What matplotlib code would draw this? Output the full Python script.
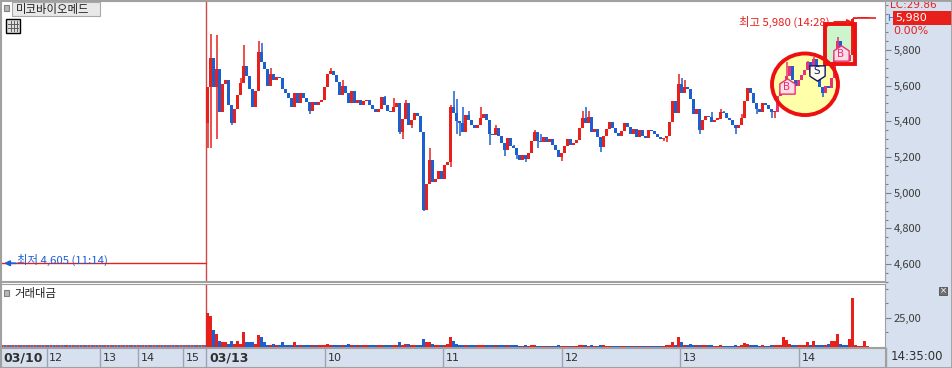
import numpy as np
import matplotlib
matplotlib.use('Agg')
import matplotlib.pyplot as plt
import matplotlib.transforms as mtransforms
from matplotlib.patches import Ellipse, Rectangle
from matplotlib.path import Path
from matplotlib.ticker import MultipleLocator, FixedLocator, FuncFormatter

plt.rcParams['font.family'] = ['Noto Sans CJK KR', 'DejaVu Sans']

# 종목 / 패널 이름
stock_name = '미코바이오메드'
vol_name = '거래대금'

# 03/13 분봉 종가 (그림에서 약 1.5분 간격으로 읽은 값)
closes = [
    5590, 5755, 5590, 5695, 5450, 5610, 5630, 5490, 5390, 5470,
    5545, 5615, 5710, 5655, 5580, 5480, 5570, 5790, 5730, 5695,
    5600, 5665, 5630, 5650, 5640, 5580, 5560, 5530, 5480, 5560,
    5500, 5560, 5530, 5510, 5460, 5510, 5490, 5510, 5520, 5590,
    5665, 5680, 5660, 5620, 5545, 5600, 5560, 5500, 5570, 5500,
    5520, 5490, 5515, 5520, 5490, 5470, 5450, 5470, 5535, 5490,
    5460, 5450, 5480, 5500, 5340, 5415, 5500, 5380, 5405, 5445,
    5430, 5340, 4905, 5050, 5185, 5060, 5075, 5120, 5075, 5155,
    5170, 5480, 5445, 5400, 5390, 5340, 5435, 5410, 5380, 5360,
    5380, 5420, 5440, 5410, 5330, 5325, 5365, 5320, 5280, 5240,
    5305, 5260, 5250, 5210, 5185, 5210, 5190, 5225, 5290, 5340,
    5290, 5285, 5315, 5285, 5300, 5270, 5240, 5200, 5225, 5260,
    5300, 5270, 5280, 5295, 5360, 5420, 5390, 5425, 5340, 5355,
    5310, 5255, 5320, 5355, 5395, 5365, 5335, 5320, 5345, 5390,
    5370, 5330, 5355, 5315, 5350, 5320, 5305, 5350, 5345, 5330,
    5310, 5300, 5305, 5320, 5395, 5515, 5445, 5610, 5560, 5590,
    5580, 5525, 5440, 5470, 5350, 5410, 5430, 5425, 5395, 5410,
    5415, 5455, 5445, 5420, 5405, 5380, 5360, 5380, 5420, 5515,
    5585, 5560, 5505, 5470, 5450, 5500, 5490, 5470, 5450, 5455,
    5540, 5570, 5590, 5655, 5710, 5630, 5600, 5630, 5660, 5685,
    5730, 5670, 5750, 5640, 5590, 5560, 5600, 5585, 5640, 5760,
    5850, 5800, 5770, 5740, 5770, 5975, 5980, 5980, 5980, 5980, 5980,
]
first_open = 5390

# 꼬리가 긴 봉 (인덱스: 가격)
wick_hi = {1: 5890, 3: 5885, 11: 5645, 12: 5830, 17: 5850, 18: 5840, 21: 5700,
           41: 5700, 45: 5630, 59: 5540, 62: 5530, 66: 5520, 74: 5250, 81: 5490,
           82: 5570, 83: 5525, 85: 5480, 87: 5460, 91: 5480, 96: 5380, 102: 5270,
           109: 5350, 111: 5330, 125: 5460, 126: 5480, 127: 5460, 157: 5665,
           158: 5640, 159: 5630, 168: 5450, 171: 5470, 172: 5460, 178: 5440,
           193: 5730, 200: 5740, 202: 5760, 210: 5870, 215: 5980}
wick_lo = {0: 5250, 1: 5250, 3: 5300, 8: 5380, 34: 5440, 64: 5330, 65: 5300,
           68: 5365, 72: 4900, 81: 5145, 83: 5330, 84: 5320, 94: 5270, 99: 5205,
           103: 5190, 106: 5170, 110: 5250, 118: 5180, 131: 5230, 152: 5290,
           153: 5285, 164: 5330, 176: 5330, 183: 5440, 188: 5420, 189: 5420,
           205: 5535}

# 거래대금
volume = [
    29, 27, 15, 11, 5, 4, 4, 3, 5, 3,
    5, 3, 12.5, 4, 4, 4, 3, 10.5, 9, 4,
    2, 2, 2.5, 2, 2, 4, 2, 2, 2, 4,
    2, 1.5, 1.5, 2, 1.5, 1.5, 2, 1.5, 1.5, 2,
    3, 2, 1.5, 1.5, 2, 1.5, 1.5, 3, 1.5, 1.5,
    2, 1.5, 1.5, 1.5, 2, 1.5, 1.5, 2, 1.5, 1.5,
    1.5, 1.5, 1.5, 2, 4, 1.5, 3, 3, 1.5, 2,
    1.5, 2, 6.5, 4, 4, 3, 2, 1.5, 2, 2,
    2.5, 8.5, 5, 3, 2, 2, 2, 1.5, 1.5, 1.5,
    2, 1.5, 2, 1.5, 1.5, 1.5, 1.5, 1.5, 1.5, 2,
    1.5, 1.5, 1.5, 1.5, 1, 1, 1.5, 1, 1.5, 1.5,
    1, 1, 1, 1, 1, 1, 1, 1.5, 1, 1,
    1, 1, 1, 1, 1.5, 2, 1.5, 1, 1.5, 1,
    1, 2, 1.5, 1, 1, 1, 1, 1, 1, 1,
    1, 1, 1, 1, 1, 1, 1, 1, 1, 1,
    1, 1, 1, 1.5, 2, 4, 2, 8.5, 4.5, 2,
    2, 3, 2, 1.5, 2, 1.5, 1.5, 1.5, 1.5, 1,
    1, 1.5, 1, 1, 1, 1, 1.5, 1, 1.5, 3.5,
    2.5, 1.5, 1.5, 1.5, 1, 1.5, 1, 1, 1.5, 1.5,
    2, 2, 9, 6, 3, 2, 1.5, 1.5, 2, 1.5,
    4, 2, 5, 1.5, 1.5, 1.5, 2, 3, 5, 5,
    11, 3, 1.5, 2, 6.5, 42, 2, 1, 1, 5, 1,
]

low_price, low_text = 4605, '최저 4,605 (11:14)'
high_price, high_idx, high_text = 5980, 215, '최고 5,980 (14:28)'
last_price, last_change, lc_text = 5980, '0.00%', 'LC:29.86'
signals = [('B', 193, 5600), ('S', 203, 5672), ('B', 211, 5785)]
circle_span = (190, 208)
box_span = (209, 214)

price_ticks = [4600, 4800, 5000, 5200, 5400, 5600, 5800]
prev_days = ['03/10', '12', '13', '14', '15']
today_hours = ['03/13', '10', '11', '12', '13', '14']
now_text = '14:35:00'

assert len(closes) == len(volume)

RED = '#e8201c'
BLUE = '#1c5fd0'
PINK = '#e63274'
GRAY = '#a0a0a0'
PANEL = '#d6e0ee'

W, H = 952, 368
fig = plt.figure(figsize=(W / 100, H / 100), dpi=100)
fig.patch.set_facecolor('white')


def px_axes(x0, y0, x1, y1):
    return fig.add_axes([x0 / W, 1 - y1 / H, (x1 - x0) / W, (y1 - y0) / H])


def fx(x):
    return x / W


def fy(y):
    return 1 - y / H


# 오른쪽 / 아래 파란 배경 (축 뒤에)
fig.patches.append(Rectangle((fx(885), 0), fx(952) - fx(885), 1, transform=fig.transFigure,
                             fc=PANEL, ec='none', zorder=-5))
fig.patches.append(Rectangle((0, 0), 1, fy(347), transform=fig.transFigure,
                             fc=PANEL, ec='none', zorder=-5))

XMIN, XMAX = -69, 225.67

ax = px_axes(1, 1, 885, 282)
axv = px_axes(1, 284, 885, 347)
axx = px_axes(1, 348, 885, 367)

# ---- 캔들 ----
n = len(closes)
x = np.arange(n)
c = np.array(closes, dtype=float)
o = np.concatenate([[first_open], c[:-1]])
hi = np.maximum(o, c)
lo = np.minimum(o, c)
for i, v in wick_hi.items():
    hi[i] = max(hi[i], v)
for i, v in wick_lo.items():
    lo[i] = min(lo[i], v)
up = c >= o
hl = np.zeros(n, dtype=bool)
hl[circle_span[0]:box_span[1] + 1] = True
cols = [(PINK if hl[i] else RED) if up[i] else BLUE for i in range(n)]

ax.vlines(x, lo, hi, colors=cols, lw=1.1, zorder=3)
ax.bar(x, np.maximum(np.abs(c - o), 6), bottom=np.minimum(o, c), width=1.0,
       color=cols, linewidth=0, zorder=3)

ax.set_xlim(XMIN, XMAX)
ax.set_ylim(4500, 6074)
ax.set_xticks([])
ax.yaxis.tick_right()
ax.yaxis.set_major_locator(FixedLocator(price_ticks))
ax.yaxis.set_minor_locator(MultipleLocator(50))
ax.yaxis.set_major_formatter(FuncFormatter(lambda v, p: f'{v:,.0f}'))
ax.tick_params(axis='y', which='major', length=4, width=0.8, color='#808080',
               labelsize=8, labelcolor='#3c3c3c', pad=2)
ax.tick_params(axis='y', which='minor', length=2.5, width=0.8, color='#808080')
for s in ax.spines.values():
    s.set_color(GRAY)
ax.spines['bottom'].set_linewidth(1.5)

# 장 시작 구분선
ax.axvline(-0.5, color='#d04848', lw=1, zorder=2)
axv.axvline(-0.5, color='#d04848', lw=1, zorder=2)

# 매매 구간 표시 (원, 박스)
span = slice(circle_span[0], circle_span[1] + 1)
ccx = (circle_span[0] + circle_span[1]) / 2
ccy = (hi[span].max() + lo[span].min()) / 2
cw = circle_span[1] - circle_span[0] + 4
chh = hi[span].max() - lo[span].min() + 40
ax.add_patch(Ellipse((ccx, ccy), cw, chh, fc='#ffffaa', ec='none', zorder=1))
ax.add_patch(Ellipse((ccx, ccy), cw, chh, fc='none', ec='#ee1010', lw=2.8, zorder=4))
bspan = slice(box_span[0], box_span[1] + 1)
bx0 = box_span[0] - 3.3
bx1 = box_span[1] + 1.7
by0 = c[bspan].min() - 20
by1 = hi[bspan].max() + 75
ax.add_patch(Rectangle((bx0, by0), bx1 - bx0, by1 - by0, fc='#ccf5cc', ec='none', zorder=1))
ax.add_patch(Rectangle((bx0, by0), bx1 - bx0, by1 - by0, fc='none', ec='#ee1010', lw=2.8, zorder=4))

# 매수/매도 신호
house = Path([(-1, -1), (1, -1), (1, 0.35), (0, 1), (-1, 0.35), (-1, -1)],
             [Path.MOVETO] + [Path.LINETO] * 4 + [Path.CLOSEPOLY])
shield = Path([(-1, 1), (1, 1), (1, -0.35), (0, -1), (-1, -0.35), (-1, 1)],
              [Path.MOVETO] + [Path.LINETO] * 4 + [Path.CLOSEPOLY])
for kind, k, p in signals:
    if kind == 'B':
        ax.plot(k, p, marker=house, ms=11, mfc='#ffdce6', mec=PINK, mew=1, zorder=5)
        ax.text(k, p - 8, 'B', color=PINK, fontsize=7.5, ha='center', va='center',
                family='DejaVu Sans', zorder=6)
    else:
        ax.plot(k, p, marker=shield, ms=11, mfc='#fffff0', mec='#141464', mew=1, zorder=5)
        ax.text(k, p + 8, 'S', color='#141464', fontsize=7.5, ha='center', va='center',
                family='DejaVu Sans', zorder=6)

# 최고가 표시
ax.annotate(high_text, xy=(high_idx - 0.3, high_price - 22), xytext=(207.3, high_price - 22),
            ha='right', va='center', color=RED, fontsize=8.2,
            arrowprops=dict(arrowstyle='-|>', color=RED, lw=1, shrinkA=1, shrinkB=0,
                            mutation_scale=7), zorder=6)
ax.hlines(last_price, high_idx, n + 1.6, color=RED, lw=1.2, zorder=3)

# 최저가 표시
ax.hlines(low_price, XMIN, -0.5, color=RED, lw=1, zorder=2)
ax.annotate('', xy=(XMIN + 1, low_price), xytext=(XMIN + 5, low_price),
            arrowprops=dict(arrowstyle='-|>', color=BLUE, lw=1.2, shrinkA=0, shrinkB=0,
                            mutation_scale=8))
ax.text(XMIN + 5.3, low_price + 20, low_text, color=BLUE, fontsize=8.2, va='center', ha='left')

# 오른쪽 현재가 표시
bt = mtransforms.blended_transform_factory(ax.transAxes, ax.transData)
ax.text(1 + 5 / 884, 6050, lc_text, transform=bt, color=RED, fontsize=7.5,
        family='DejaVu Sans', va='center', ha='left', clip_on=False)
ax.text(1 + 2 / 884, 5975, 'H', transform=bt, color=BLUE, fontsize=6.5,
        family='DejaVu Sans', va='center', ha='left', clip_on=False)
ax.add_patch(Rectangle((1 + 8 / 884, last_price - 40), 66 / 884, 80, transform=bt,
                       fc=RED, ec='none', clip_on=False, zorder=6))
ax.text(1 + 10 / 884, last_price, f'{last_price:,}', transform=bt, color='white',
        fontsize=8, family='DejaVu Sans', va='center', ha='left', clip_on=False, zorder=7)
ax.text(1 + 8 / 884, 5905, last_change, transform=bt, color=RED, fontsize=8,
        family='DejaVu Sans', va='center', ha='left', clip_on=False)

# ---- 거래대금 ----
vcols = [RED if up[i] else BLUE for i in range(n)]
axv.bar(x, volume, width=1.0, color=vcols, linewidth=0, zorder=3)
axv.hlines(0.9, XMIN, -0.6, colors=RED, lw=1.3, linestyles=(0, (1.5, 1.5)))
axv.hlines(0.9, XMIN, -0.6, colors=BLUE, lw=1.3, linestyles=(1.5, (1.5, 1.5)))
axv.set_xlim(XMIN, XMAX)
axv.set_ylim(0, 54.3)
axv.set_xticks([])
axv.yaxis.tick_right()
axv.yaxis.set_major_locator(FixedLocator([25]))
axv.yaxis.set_minor_locator(FixedLocator([12.5, 37.5, 50]))
axv.yaxis.set_major_formatter(FuncFormatter(lambda v, p: '25,00'))
axv.tick_params(axis='y', which='major', length=4, width=0.8, color='#808080',
                labelsize=8, labelcolor='#3c3c3c', pad=2)
axv.tick_params(axis='y', which='minor', length=2.5, width=0.8, color='#808080')
for s in axv.spines.values():
    s.set_color(GRAY)

# ---- 시간축 ----
axx.set_facecolor(PANEL)
axx.set_xlim(XMIN, XMAX)
axx.set_ylim(0, 1)
axx.set_xticks([])
axx.set_yticks([])
for s in axx.spines.values():
    s.set_color(GRAY)
prev_pos = [XMIN, -53.7, -36, -23.3, -8.3]
hour_pos = [-0.5 + 39.5 * h for h in range(len(today_hours))]
for lab, p in zip(prev_days + today_hours, prev_pos + hour_pos):
    if p > XMIN:
        axx.axvline(p, color='#9aa4b4', lw=1)
    big = '/' in lab
    axx.text(p + 0.8, 0.45, lab, fontsize=9 if big else 8, family='DejaVu Sans',
             fontweight='bold' if big else 'normal', color='#303030', va='center', ha='left')
fig.text(fx(891), fy(357), now_text, fontsize=8.5, family='DejaVu Sans', color='#303030',
         va='center', ha='left')
fig.lines.append(plt.Line2D([fx(886), fx(886)], [fy(348), fy(367)], transform=fig.transFigure,
                            color=GRAY, lw=1))

# ---- 상단 / 패널 제목 ----
fig.patches.append(Rectangle((fx(4), fy(11)), fx(5), fy(5) - fy(11), transform=fig.transFigure,
                             fc='#b8b8b8', ec='#808080', lw=0.8))
fig.patches.append(Rectangle((fx(12), fy(16)), fx(88), fy(2) - fy(16), transform=fig.transFigure,
                             fc='#e8e8e8', ec='#a8a8a8', lw=0.8))
fig.text(fx(16), fy(9.5), stock_name, fontsize=8.2, color='#202020', va='center', ha='left')
fig.patches.append(Rectangle((fx(6), fy(33)), fx(14), fy(19) - fy(33), transform=fig.transFigure,
                             fc='#e0e0e0', ec='black', lw=1))
for yy in (23.5, 27.5):
    fig.lines.append(plt.Line2D([fx(8), fx(18)], [fy(yy), fy(yy)], transform=fig.transFigure,
                                color='#606060', lw=0.7))
for xx in (10.5, 13.5, 16.5):
    fig.lines.append(plt.Line2D([fx(xx), fx(xx)], [fy(21), fy(31)], transform=fig.transFigure,
                                color='#606060', lw=0.7))

fig.patches.append(Rectangle((fx(4), fy(296)), fx(5), fy(290) - fy(296), transform=fig.transFigure,
                             fc='#b8b8b8', ec='#808080', lw=0.8))
fig.text(fx(14), fy(293), vol_name, fontsize=8.2, color='#202020', va='center', ha='left')
fig.patches.append(Rectangle((fx(939), fy(295)), fx(8), fy(287) - fy(295), transform=fig.transFigure,
                             fc='#707070', ec='#505050', lw=0.6))
fig.text(fx(943), fy(291), '×', fontsize=6, color='white', va='center', ha='center',
         family='DejaVu Sans')

# 바깥 테두리
fig.patches.append(Rectangle((0, 0), 1, 1, transform=fig.transFigure, fc='none',
                             ec=GRAY, lw=2))

fig.savefig('out.png', dpi=100)
